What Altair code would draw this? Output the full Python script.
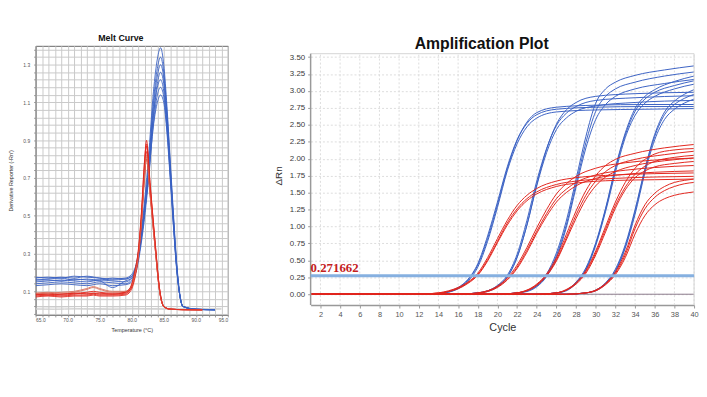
import altair as alt
import pandas as pd

# ---------------- Melt curve data (left panel) ----------------
melt_blue_temps = [65, 67, 69, 71, 73, 75, 77, 79, 80, 80.8, 81.6, 82.6, 83.4, 84.0,
                   84.5, 85.0, 85.5, 86.0, 86.5, 87.0, 87.5, 88.0, 90, 93]
melt_blue = [
    [0.17, 0.175, 0.17, 0.18, 0.175, 0.17, 0.165, 0.17, 0.19, 0.26, 0.45, 0.80, 1.16, 1.33, 1.39, 1.30, 1.08, 0.80, 0.52, 0.26, 0.09, 0.02, 0.005, 0.003],
    [0.16, 0.165, 0.17, 0.16, 0.165, 0.16, 0.17, 0.165, 0.18, 0.25, 0.43, 0.76, 1.11, 1.28, 1.34, 1.26, 1.05, 0.78, 0.50, 0.25, 0.08, 0.02, 0.005, 0.002],
    [0.15, 0.155, 0.16, 0.155, 0.15, 0.16, 0.155, 0.15, 0.17, 0.24, 0.42, 0.74, 1.08, 1.24, 1.30, 1.23, 1.03, 0.76, 0.49, 0.24, 0.08, 0.02, 0.006, 0.003],
    [0.14, 0.145, 0.15, 0.145, 0.14, 0.15, 0.145, 0.14, 0.16, 0.23, 0.40, 0.71, 1.04, 1.20, 1.26, 1.20, 1.01, 0.75, 0.48, 0.24, 0.08, 0.02, 0.005, 0.002],
    [0.16, 0.16, 0.155, 0.165, 0.16, 0.155, 0.12, 0.155, 0.17, 0.24, 0.41, 0.71, 1.03, 1.18, 1.22, 1.16, 0.98, 0.73, 0.47, 0.23, 0.08, 0.02, 0.005, 0.002],
    [0.13, 0.135, 0.14, 0.135, 0.13, 0.14, 0.13, 0.135, 0.15, 0.22, 0.38, 0.68, 0.99, 1.14, 1.18, 1.13, 0.96, 0.72, 0.46, 0.23, 0.08, 0.02, 0.005, 0.002],
    [0.175, 0.17, 0.175, 0.17, 0.18, 0.17, 0.16, 0.165, 0.18, 0.25, 0.41, 0.70, 0.98, 1.10, 1.14, 1.10, 0.94, 0.70, 0.45, 0.22, 0.08, 0.02, 0.005, 0.002],
]
melt_red_temps = [65, 67, 69, 71, 73, 74, 75, 77, 79, 79.8, 80.5, 81.0, 81.5, 82.0,
                  82.3, 82.9, 83.6, 84.4, 85.0, 86.0, 88, 91]
melt_red = [
    [0.085, 0.09, 0.085, 0.09, 0.095, 0.10, 0.095, 0.09, 0.095, 0.12, 0.20, 0.30, 0.50, 0.78, 0.90, 0.66, 0.38, 0.10, 0.02, 0.006, 0.003, 0.002],
    [0.08, 0.085, 0.08, 0.085, 0.09, 0.09, 0.085, 0.085, 0.09, 0.11, 0.19, 0.29, 0.48, 0.75, 0.87, 0.64, 0.37, 0.10, 0.02, 0.006, 0.003, 0.002],
    [0.075, 0.08, 0.075, 0.08, 0.08, 0.085, 0.08, 0.08, 0.085, 0.11, 0.18, 0.28, 0.47, 0.73, 0.84, 0.62, 0.36, 0.09, 0.02, 0.005, 0.003, 0.002],
    [0.09, 0.095, 0.09, 0.095, 0.11, 0.12, 0.11, 0.095, 0.10, 0.12, 0.20, 0.29, 0.47, 0.72, 0.82, 0.61, 0.35, 0.09, 0.02, 0.005, 0.003, 0.002],
    [0.07, 0.075, 0.07, 0.075, 0.075, 0.08, 0.075, 0.075, 0.08, 0.10, 0.17, 0.27, 0.45, 0.70, 0.80, 0.60, 0.35, 0.09, 0.02, 0.005, 0.003, 0.002],
    [0.09, 0.09, 0.095, 0.10, 0.115, 0.125, 0.115, 0.10, 0.10, 0.12, 0.19, 0.28, 0.46, 0.71, 0.81, 0.60, 0.35, 0.09, 0.02, 0.005, 0.003, 0.002],
    [0.085, 0.08, 0.085, 0.09, 0.085, 0.09, 0.09, 0.085, 0.095, 0.12, 0.21, 0.31, 0.51, 0.79, 0.88, 0.65, 0.38, 0.10, 0.02, 0.006, 0.003, 0.002],
]
melt_red_colors = ["#e3261c", "#e3261c", "#e3261c", "#d8725f", "#e3261c", "#d8725f", "#e3261c"]
melt_gray_temps = [65, 68, 71, 74, 77, 80, 83, 86, 89, 92, 94]
melt_gray = [
    [0.010, 0.012, 0.010, 0.008, 0.011, 0.010, 0.009, 0.010, 0.008, 0.009, 0.010],
    [0.005, 0.004, 0.006, 0.005, 0.004, 0.006, 0.005, 0.004, 0.005, 0.004, 0.005],
]
melt_x_labels = [65, 70, 75, 80, 85, 90, 95]
melt_y_labels = [0.1, 0.3, 0.5, 0.7, 0.9, 1.1, 1.3]

# ---------------- Amplification data (right panel) ----------------
amp_blue_cycles = [
    [1, 12, 14, 15, 16, 17, 18, 19, 20, 21, 22, 23, 24, 26, 30, 35, 40],
    [1, 16, 18, 19, 20, 21, 22, 23, 24, 25, 26, 27, 28, 30, 34, 40],
    [1, 20, 22, 23, 24, 25, 26, 27, 28, 29, 30, 31, 32, 34, 37, 40],
    [1, 24, 26, 27, 28, 29, 30, 31, 32, 33, 34, 35, 36, 38, 40],
    [1, 27, 29, 30, 31, 32, 33, 34, 35, 36, 37, 38, 39, 40],
]
amp_blue = [
    [[0, 0, 0.01, 0.03, 0.08, 0.19, 0.40, 0.78, 1.28, 1.82, 2.22, 2.47, 2.60, 2.69, 2.72, 2.73, 2.74],
     [0, 0, 0.01, 0.04, 0.10, 0.22, 0.45, 0.86, 1.36, 1.88, 2.28, 2.52, 2.65, 2.73, 2.76, 2.77, 2.77],
     [0, 0, 0.01, 0.03, 0.09, 0.21, 0.43, 0.82, 1.32, 1.85, 2.27, 2.54, 2.68, 2.76, 2.79, 2.80, 2.80]],
    [[0, 0, 0.02, 0.05, 0.12, 0.26, 0.55, 1.02, 1.60, 2.09, 2.43, 2.60, 2.70, 2.78, 2.83, 2.86],
     [0, 0, 0.02, 0.05, 0.13, 0.28, 0.59, 1.09, 1.67, 2.15, 2.49, 2.67, 2.77, 2.86, 2.90, 2.93],
     [0, 0, 0.02, 0.04, 0.11, 0.25, 0.54, 1.02, 1.62, 2.14, 2.51, 2.72, 2.83, 2.92, 2.96, 2.98]],
    [[0, 0, 0.02, 0.05, 0.13, 0.30, 0.61, 1.08, 1.70, 2.33, 2.82, 3.03, 3.13, 3.23, 3.31, 3.37],
     [0, 0, 0.02, 0.05, 0.12, 0.28, 0.57, 1.02, 1.63, 2.24, 2.70, 2.92, 3.03, 3.13, 3.22, 3.28],
     [0, 0, 0.02, 0.04, 0.11, 0.26, 0.54, 0.98, 1.58, 2.16, 2.58, 2.80, 2.92, 3.03, 3.11, 3.17]],
    [[0, 0, 0.02, 0.06, 0.18, 0.39, 0.76, 1.27, 1.87, 2.38, 2.74, 2.92, 3.02, 3.14, 3.22],
     [0, 0, 0.02, 0.05, 0.16, 0.36, 0.72, 1.22, 1.80, 2.31, 2.64, 2.82, 2.92, 3.03, 3.10],
     [0, 0, 0.02, 0.06, 0.17, 0.37, 0.74, 1.25, 1.85, 2.35, 2.70, 2.88, 2.98, 3.08, 3.15]],
    [[0, 0, 0.02, 0.06, 0.16, 0.35, 0.70, 1.22, 1.83, 2.33, 2.65, 2.80, 2.89, 2.95],
     [0, 0, 0.02, 0.05, 0.15, 0.33, 0.68, 1.18, 1.79, 2.28, 2.58, 2.73, 2.82, 2.88],
     [0, 0, 0.02, 0.06, 0.17, 0.37, 0.73, 1.25, 1.85, 2.36, 2.69, 2.85, 2.95, 3.02]],
]
amp_red_cycles = [
    [1, 12, 14, 15, 16, 17, 18, 19, 20, 21, 22, 23, 24, 26, 28, 32, 36, 40],
    [1, 16, 18, 19, 20, 21, 22, 23, 24, 25, 26, 27, 28, 30, 33, 36, 40],
    [1, 20, 22, 23, 24, 25, 26, 27, 28, 29, 30, 31, 32, 34, 37, 40],
    [1, 24, 26, 27, 28, 29, 30, 31, 32, 33, 34, 35, 36, 38, 40],
    [1, 27, 29, 30, 31, 32, 33, 34, 35, 36, 37, 38, 39, 40],
]
amp_red = [
    [[0, 0, 0.02, 0.04, 0.09, 0.17, 0.29, 0.51, 0.78, 1.05, 1.26, 1.41, 1.51, 1.62, 1.67, 1.71, 1.73, 1.74],
     [0, 0, 0.02, 0.05, 0.10, 0.18, 0.31, 0.54, 0.82, 1.09, 1.31, 1.46, 1.56, 1.67, 1.72, 1.76, 1.78, 1.79],
     [0, 0, 0.01, 0.04, 0.08, 0.16, 0.28, 0.49, 0.76, 1.02, 1.23, 1.38, 1.48, 1.59, 1.64, 1.68, 1.69, 1.70]],
    [[0, 0, 0.02, 0.05, 0.11, 0.22, 0.40, 0.65, 0.93, 1.19, 1.41, 1.55, 1.65, 1.76, 1.83, 1.87, 1.90],
     [0, 0, 0.02, 0.05, 0.12, 0.24, 0.43, 0.69, 0.98, 1.25, 1.48, 1.63, 1.74, 1.86, 1.94, 1.98, 2.01],
     [0, 0, 0.01, 0.04, 0.10, 0.21, 0.38, 0.62, 0.90, 1.15, 1.36, 1.50, 1.60, 1.71, 1.77, 1.80, 1.82]],
    [[0, 0, 0.02, 0.06, 0.14, 0.28, 0.51, 0.83, 1.17, 1.46, 1.67, 1.81, 1.90, 1.99, 2.06, 2.11],
     [0, 0, 0.02, 0.06, 0.15, 0.30, 0.54, 0.88, 1.23, 1.53, 1.75, 1.90, 1.99, 2.08, 2.16, 2.21],
     [0, 0, 0.02, 0.05, 0.13, 0.27, 0.49, 0.80, 1.12, 1.40, 1.60, 1.73, 1.81, 1.90, 1.97, 2.01]],
    [[0, 0, 0.02, 0.06, 0.16, 0.33, 0.61, 0.96, 1.31, 1.58, 1.77, 1.89, 1.96, 2.02, 2.05],
     [0, 0, 0.02, 0.06, 0.15, 0.31, 0.58, 0.92, 1.27, 1.54, 1.72, 1.82, 1.88, 1.93, 1.96],
     [0, 0, 0.02, 0.07, 0.17, 0.35, 0.64, 1.00, 1.36, 1.65, 1.86, 1.99, 2.07, 2.13, 2.15]],
    [[0, 0, 0.02, 0.06, 0.15, 0.31, 0.58, 0.97, 1.26, 1.43, 1.53, 1.59, 1.63, 1.65],
     [0, 0, 0.02, 0.06, 0.16, 0.33, 0.62, 1.02, 1.32, 1.49, 1.59, 1.65, 1.68, 1.70],
     [0, 0, 0.02, 0.05, 0.14, 0.29, 0.54, 0.89, 1.16, 1.32, 1.41, 1.46, 1.49, 1.51]],
]
threshold = 0.271662
amp_x_ticks = list(range(2, 41, 2))
amp_y_ticks = [0.0, 0.25, 0.5, 0.75, 1.0, 1.25, 1.5, 1.75, 2.0, 2.25, 2.5, 2.75, 3.0, 3.25, 3.5]
AMP_X = [1, 40]
AMP_Y = [-0.16, 3.55]
AMP_Y_TOP_PAD = 3.666   # blank band above the plot frame (offsets panel vertically)

BLUE = "#3b62c3"
RED = "#e2261d"

# ---------- build tables ----------
mrows = []
for i, vals in enumerate(melt_gray):
    for t, v in zip(melt_gray_temps, vals):
        mrows.append({"s": f"g{i}", "t": t, "v": v, "c": "#cdcdcd", "o": 0})
for i, vals in enumerate(melt_blue):
    for t, v in zip(melt_blue_temps, vals):
        mrows.append({"s": f"b{i}", "t": t, "v": v, "c": BLUE, "o": 1})
for i, vals in enumerate(melt_red):
    for t, v in zip(melt_red_temps, vals):
        mrows.append({"s": f"r{i}", "t": t, "v": v, "c": melt_red_colors[i], "o": 2})
melt_df = pd.DataFrame(mrows)

arows = []
for g, (cyc, crv) in enumerate(zip(amp_blue_cycles, amp_blue)):
    for k, vals in enumerate(crv):
        for c, v in zip(cyc, vals):
            arows.append({"s": f"b{g}{k}", "cy": c, "v": v, "c": BLUE})
for g, (cyc, crv) in enumerate(zip(amp_red_cycles, amp_red)):
    for k, vals in enumerate(crv):
        for c, v in zip(cyc, vals):
            arows.append({"s": f"r{g}{k}", "cy": c, "v": v, "c": RED})
amp_df = pd.DataFrame(arows)

# ---------- left: melt curve ----------
grid_x = list(range(65, 96))
grid_y = [round(-0.02 + 0.04 * k, 2) for k in range(36)]


def lab_expr(vals):
    cond = " || ".join(f"datum.value === {v}" for v in vals)
    return f"({cond}) ? format(datum.value, '.1f') : ''"


small_axis = dict(labelFontSize=5, labelColor="#555", titleFontSize=5.5, titleColor="#333",
                  titleFont="Liberation Sans", labelFont="Liberation Sans", titleFontWeight="normal",
                  gridColor="#c9c9c9", gridWidth=1, domainColor="#888", tickColor="#999", tickSize=2,
                  labelOverlap=False)

melt = alt.Chart(melt_df).mark_line(interpolate="monotone", strokeWidth=0.9, clip=True).encode(
    x=alt.X("t:Q", scale=alt.Scale(domain=[65, 95], nice=False, zero=False),
            axis=alt.Axis(values=grid_x, labelExpr=lab_expr(melt_x_labels), title="Temperature (°C)",
                          titlePadding=5, labelPadding=1, **small_axis)),
    y=alt.Y("v:Q", scale=alt.Scale(domain=[-0.025, 1.40], nice=False, zero=False),
            axis=alt.Axis(values=grid_y, labelExpr=lab_expr(melt_y_labels), title="Derivative Reporter (-Rn')",
                          titlePadding=9, labelPadding=4, **small_axis)),
    detail="s:N",
    order="o:Q",
    color=alt.Color("c:N", scale=None),
).properties(
    width=195, height=273,
    title=alt.TitleParams("Melt Curve", fontSize=9, fontWeight="bold", font="Liberation Sans",
                          color="#111", dx=-11, offset=3),
    view=alt.ViewBackground(stroke="#666", strokeWidth=1),
)

# ---------- right: amplification plot ----------
xs = alt.Scale(domain=AMP_X, nice=False, zero=False)
ys = alt.Scale(domain=[AMP_Y[0], AMP_Y_TOP_PAD], nice=False, zero=False)

x_axis = alt.Axis(
    values=amp_x_ticks, title="Cycle", titleFontSize=11, titleFont="Liberation Sans",
    titleColor="#333", titleFontWeight="normal", labelPadding=3, titlePadding=3, grid=False,
    domainColor="#999", domainWidth=1.5, labelFontSize=7.5, labelColor="#555",
    labelFont="Liberation Sans", tickColor="#999", tickSize=3, labelOverlap=False,
    labelFlush=False)
y_axis = alt.Axis(
    values=amp_y_ticks, format=".2f", title="ΔRn", titleFontSize=10, titleFont="Liberation Sans",
    titleColor="#333", titleFontWeight="normal", labelPadding=3, titlePadding=6,
    grid=True, gridColor="#dcdcdc", gridDash=[2, 2], domain=False, labelFontSize=8,
    labelColor="#3a3a3a", labelFont="Liberation Sans", tickColor="#999", tickSize=3,
    labelOverlap=False, labelFlush=False)


def X(field):
    return alt.X(field, type="quantitative", scale=xs, axis=x_axis)


def Y(field):
    return alt.Y(field, type="quantitative", scale=ys, axis=y_axis)


curves = alt.Chart(amp_df).mark_line(interpolate="monotone", strokeWidth=1, clip=True).encode(
    x=X("cy"), y=Y("v"), detail="s:N", color=alt.Color("c:N", scale=None))

vgrid = alt.Chart(pd.DataFrame({"x": amp_x_ticks, "y1": AMP_Y[0], "y2": AMP_Y[1]})).mark_rule(
    color="#dcdcdc", strokeDash=[2, 2], strokeWidth=1).encode(x=X("x"), y=Y("y1"), y2="y2:Q")

frame_df = pd.DataFrame({
    "x1": [AMP_X[0], AMP_X[1], AMP_X[0]],
    "x2": [AMP_X[1], AMP_X[1], AMP_X[0]],
    "y1": [AMP_Y[1], AMP_Y[0], AMP_Y[0]],
    "y2": [AMP_Y[1], AMP_Y[1], AMP_Y[1]],
    "c": ["#d4d4d4", "#d4d4d4", "#999999"],
    "w": [1, 1, 1.5],
})
frame = alt.Chart(frame_df).mark_rule().encode(
    x=X("x1"), x2="x2:Q", y=Y("y1"), y2="y2:Q",
    color=alt.Color("c:N", scale=None), strokeWidth=alt.StrokeWidth("w:Q", scale=None))

zero_line = alt.Chart(pd.DataFrame({"a": [1], "b": [40], "y": [0.0]})).mark_rule(
    color="#8a7a8a", strokeWidth=1).encode(x=X("a"), x2="b:Q", y=Y("y"))

thr_df = pd.DataFrame({"a": [1], "b": [40], "y": [threshold], "lab": [f"{threshold}"]})
thr_line = alt.Chart(thr_df).mark_rule(color="#86b0e0", strokeWidth=3).encode(
    x=X("a"), x2="b:Q", y=Y("y"))
thr_text = alt.Chart(thr_df).mark_text(
    align="left", baseline="bottom", dx=0, dy=-1, font="Liberation Serif", fontSize=13,
    fontWeight="bold", color="#c4201c").encode(x=X("a"), y=Y("y"), text="lab:N")

amp = alt.layer(vgrid, zero_line, curves, frame, thr_line, thr_text).properties(
    width=389, height=263,
    title=alt.TitleParams("Amplification Plot", fontSize=16, fontWeight="bold",
                          font="Liberation Sans", color="#111", dx=-21, offset=-6),
    view=alt.ViewBackground(stroke=None),
)

chart = alt.hconcat(melt, amp, spacing=45).properties(
    padding={"left": 0, "top": 23, "right": 0, "bottom": 0},
    background="white",
).configure_view(stroke="#ccc").configure_axis(labelOverlap=False)

chart.save("out.html", embed_options={"renderer": "svg", "actions": False})
